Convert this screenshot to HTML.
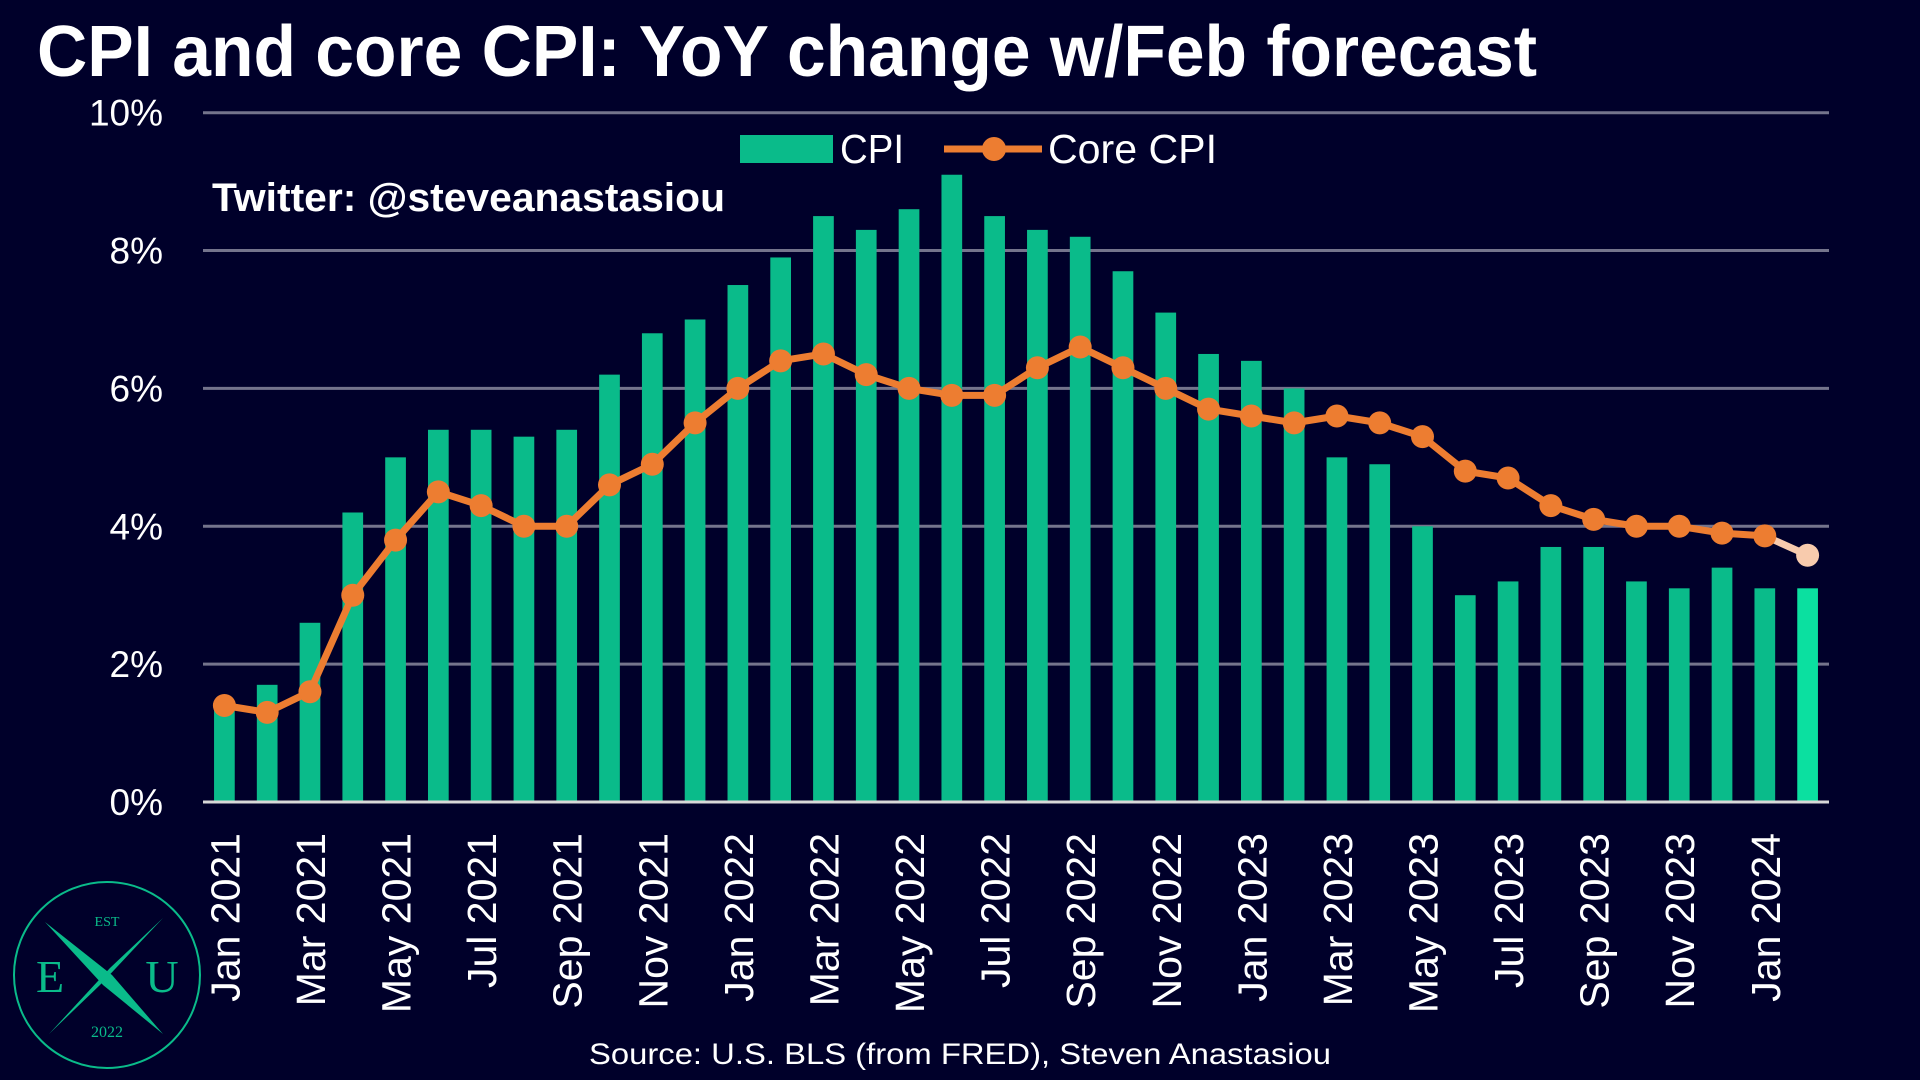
<!DOCTYPE html>
<html><head><meta charset="utf-8"><style>
html,body{margin:0;padding:0;background:#00002a;}
svg{display:block;font-family:"Liberation Sans",sans-serif;}
</style></head><body>
<svg id="chart" width="1920" height="1080" viewBox="0 0 1920 1080" xmlns="http://www.w3.org/2000/svg">
<rect width="1920" height="1080" fill="#00002a"/>
<text x="37" y="76" font-size="72" font-weight="bold" fill="#fff" textLength="1500" lengthAdjust="spacingAndGlyphs">CPI and core CPI: YoY change w/Feb forecast</text>
<g id="grid"></g>
<g id="ylabels"></g>
<g id="bars"></g>
<line id="xaxis" x1="203" x2="1829" y1="802" y2="802" stroke="#d8d8d8" stroke-width="3"/>
<g id="line"></g>
<g id="xlabels"></g>
<g>
<rect x="740" y="135" width="93" height="28" fill="#0abb8a"/>
<text x="840" y="163" font-size="41" fill="#fff" textLength="64" lengthAdjust="spacingAndGlyphs">CPI</text>
<line x1="944" x2="1042" y1="149" y2="149" stroke="#ed7d31" stroke-width="7"/>
<circle cx="994" cy="149" r="12" fill="#ed7d31"/>
<text x="1048" y="163" font-size="41" fill="#fff" textLength="169" lengthAdjust="spacingAndGlyphs">Core CPI</text>
</g>
<text x="212" y="211" font-size="40" font-weight="bold" fill="#fff" textLength="513" lengthAdjust="spacingAndGlyphs">Twitter: @steveanastasiou</text>
<text x="960" y="1064" font-size="30" fill="#fff" text-anchor="middle" textLength="742" lengthAdjust="spacingAndGlyphs">Source: U.S. BLS (from FRED), Steven Anastasiou</text>
<g>
<circle cx="107" cy="975" r="93" fill="none" stroke="#0abb8a" stroke-width="2"/>
<path d="M45 922 L112 975 L163 1034 L103 985 Z" fill="#0abb8a"/>
<path d="M163 918 L110 968 L49 1034 L100 985 Z" fill="#0abb8a"/>
<text x="107" y="926" font-family="Liberation Serif,serif" font-size="14" fill="#0abb8a" text-anchor="middle">EST</text>
<text x="50" y="992" font-family="Liberation Serif,serif" font-size="46" fill="#0abb8a" text-anchor="middle">E</text>
<text x="162" y="992" font-family="Liberation Serif,serif" font-size="46" fill="#0abb8a" text-anchor="middle">U</text>
<text x="107" y="1037" font-family="Liberation Serif,serif" font-size="16" fill="#0abb8a" text-anchor="middle">2022</text>
</g>
</svg>
<script>
const months = ["Jan 2021","Feb 2021","Mar 2021","Apr 2021","May 2021","Jun 2021","Jul 2021","Aug 2021","Sep 2021","Oct 2021","Nov 2021","Dec 2021","Jan 2022","Feb 2022","Mar 2022","Apr 2022","May 2022","Jun 2022","Jul 2022","Aug 2022","Sep 2022","Oct 2022","Nov 2022","Dec 2022","Jan 2023","Feb 2023","Mar 2023","Apr 2023","May 2023","Jun 2023","Jul 2023","Aug 2023","Sep 2023","Oct 2023","Nov 2023","Dec 2023","Jan 2024","Feb 2024"];
const cpi = [1.4,1.7,2.6,4.2,5.0,5.4,5.4,5.3,5.4,6.2,6.8,7.0,7.5,7.9,8.5,8.3,8.6,9.1,8.5,8.3,8.2,7.7,7.1,6.5,6.4,6.0,5.0,4.9,4.0,3.0,3.2,3.7,3.7,3.2,3.1,3.4,3.1,3.1];
const core = [1.4,1.3,1.6,3.0,3.8,4.5,4.3,4.0,4.0,4.6,4.9,5.5,6.0,6.4,6.5,6.2,6.0,5.9,5.9,6.3,6.6,6.3,6.0,5.7,5.6,5.5,5.6,5.5,5.3,4.8,4.7,4.3,4.1,4.0,4.0,3.9,3.86,3.58];
const yTicks = [0,2,4,6,8,10];
const yTickLabels = ["0%","2%","4%","6%","8%","10%"];
const forecastIndex = 37;

const NS="http://www.w3.org/2000/svg";
const L=203,R=1829,T=112.7,B=802,YMAX=10;
const band=(R-L)/months.length;
const x=i=>L+band*(i+0.5);
const y=v=>B-(v/YMAX)*(B-T);
function mk(tag,attrs,parent){const e=document.createElementNS(NS,tag);for(const k in attrs)e.setAttribute(k,attrs[k]);parent.appendChild(e);return e;}
const grid=document.getElementById('grid'),yl=document.getElementById('ylabels'),bars=document.getElementById('bars'),line=document.getElementById('line'),xl=document.getElementById('xlabels');
yTicks.forEach((t,i)=>{
  if(t>0){const g=mk('line',{x1:L,x2:R,y1:y(t),y2:y(t),stroke:'#74748c','stroke-width':3},grid);
  
  }
  const tx=mk('text',{x:163,y:y(t)+13,'font-size':37,fill:'#fff','text-anchor':'end'},yl);
  tx.textContent=yTickLabels[i];
  
  
});
const bw=20.7;
cpi.forEach((v,i)=>{
  const r=mk('rect',{x:x(i)-bw/2,y:y(v),width:bw,height:B-y(v),fill:i===forecastIndex?'#0be0a0':'#0abb8a'},bars);
  
  
});
let d='';for(let i=0;i<forecastIndex;i++)d+=(i?'L':'M')+x(i)+' '+y(core[i]);
const fl=mk('line',{x1:x(forecastIndex-1),y1:y(core[forecastIndex-1]),x2:x(forecastIndex),y2:y(core[forecastIndex]),stroke:'#f8cbad','stroke-width':7},line);


const p=mk('path',{d:d,fill:'none',stroke:'#ed7d31','stroke-width':7,'stroke-linejoin':'round'},line);


core.forEach((v,i)=>{
  const c=mk('circle',{cx:x(i),cy:y(v),r:11.5,fill:i===forecastIndex?'#f8cbad':'#ed7d31'},line);
  
  
});
months.forEach((m,i)=>{
  if(i%2)return;
  const tx=mk('text',{x:0,y:0,'font-size':41,fill:'#fff','text-anchor':'end',transform:`translate(${x(i)+15},833) rotate(-90)`},xl);
  tx.textContent=m;
  
  
});
</script>
</body></html>
